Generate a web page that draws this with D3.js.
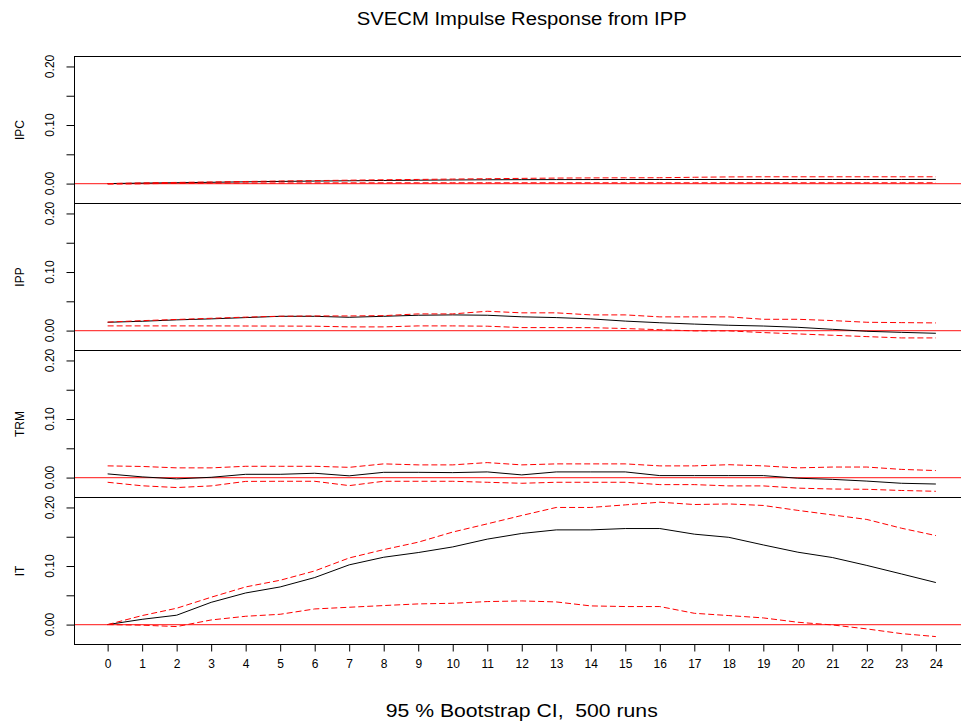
<!DOCTYPE html>
<html>
<head>
<meta charset="utf-8">
<script src="https://cdn.jsdelivr.net/npm/d3@7"></script>
<style>
  body { margin: 0; background: #fff; }
  text { font-family: "Liberation Sans", Arial, sans-serif; fill: #000; }
</style>
</head>
<body>
<svg id="Vis1" width="961" height="722"></svg>
<script>
// horizon steps (x axis)
let horizons = d3.range(0, 25);

let variables = ["IPC", "IPP", "TRM", "IT"];

// impulse responses
let ipcResp = [0, 0.0008, 0.0015, 0.0022, 0.003, 0.0037, 0.0043, 0.0048, 0.0053, 0.0058, 0.0062, 0.0065, 0.0067,
  0.0068, 0.0069, 0.007, 0.007, 0.007, 0.007, 0.007, 0.007, 0.007, 0.007, 0.007, 0.0071];
let ipcUpper = [0, 0.0012, 0.002, 0.0028, 0.0036, 0.0044, 0.0051, 0.0058, 0.0065, 0.0071, 0.0077, 0.0083, 0.0089,
  0.0094, 0.0097, 0.0099, 0.01, 0.0108, 0.0114, 0.0116, 0.0116, 0.0116, 0.0116, 0.0116, 0.0116];
let ipcLower = [-0.0009, -0.0004, 0.0005, 0.0008, 0.001, 0.0011, 0.0012, 0.0013, 0.0013, 0.0014, 0.0014, 0.0014, 0.0014,
  0.0014, 0.0014, 0.0014, 0.0014, 0.0014, 0.0014, 0.0014, 0.0014, 0.0014, 0.0014, 0.0014, 0.0014];

let ippResp = [0.0142, 0.0159, 0.0183, 0.02, 0.0222, 0.0244, 0.0244, 0.0227, 0.0244, 0.0262, 0.0268, 0.0262, 0.0235,
  0.0222, 0.02, 0.0162, 0.0134, 0.0111, 0.0091, 0.0078, 0.0056, 0.0022, -0.0012, -0.003, -0.0046];
let ippUpper = [0.0145, 0.017, 0.019, 0.021, 0.023, 0.0245, 0.025, 0.025, 0.0255, 0.0285, 0.0285, 0.033, 0.0303,
  0.0303, 0.0268, 0.0268, 0.0234, 0.0234, 0.0234, 0.0193, 0.0193, 0.0171, 0.0142, 0.0136, 0.0131];
let ippLower = [0.008, 0.008, 0.008, 0.008, 0.0078, 0.0077, 0.0075, 0.0063, 0.0063, 0.008, 0.008, 0.0075, 0.0051,
  0.0051, 0.005, 0.0035, 0.0015, -0.0005, -0.0005, -0.0034, -0.0057, -0.008, -0.0103, -0.0125, -0.0125];

let trmResp = [0.0063, 0.0012, -0.0022, 0.0005, 0.0056, 0.0056, 0.0074, 0.003, 0.009, 0.009, 0.0085, 0.0097, 0.0046,
  0.0097, 0.0097, 0.0097, 0.0034, 0.0034, 0.0034, 0.0034, -0.0011, -0.003, -0.006, -0.0097, -0.011];
let trmUpper = [0.02, 0.019, 0.0166, 0.0166, 0.0193, 0.0193, 0.0193, 0.0175, 0.0234, 0.0217, 0.0217, 0.0256, 0.0217,
  0.0234, 0.0234, 0.0234, 0.02, 0.02, 0.022, 0.02, 0.0166, 0.018, 0.018, 0.014, 0.012];
let trmLower = [-0.008, -0.014, -0.017, -0.0142, -0.0065, -0.0063, -0.0063, -0.0137, -0.0063, -0.0063, -0.0063, -0.008,
  -0.0097, -0.008, -0.008, -0.008, -0.012, -0.012, -0.0142, -0.0142, -0.018, -0.0195, -0.02, -0.022, -0.0234];

let itResp = [0, 0.009, 0.016, 0.038, 0.054, 0.0643, 0.0803, 0.102, 0.115, 0.123, 0.1326, 0.1459, 0.1556,
  0.1617, 0.1617, 0.164, 0.164, 0.1544, 0.149, 0.136, 0.1236, 0.1145, 0.101, 0.0865, 0.0718];
let itUpper = [0, 0.0154, 0.0279, 0.0467, 0.0643, 0.0757, 0.0916, 0.1138, 0.128, 0.1407, 0.158, 0.172, 0.1863,
  0.2, 0.2, 0.2044, 0.209, 0.205, 0.206, 0.2034, 0.195, 0.1873, 0.1795, 0.1646, 0.152];
let itLower = [0, -0.001, -0.0034, 0.0079, 0.0142, 0.0176, 0.0267, 0.0296, 0.0325, 0.0353, 0.0364, 0.0393, 0.0404,
  0.0387, 0.0319, 0.0308, 0.0308, 0.0193, 0.0154, 0.0114, 0.004, -0.0006, -0.0074, -0.0154, -0.0205];

let yTicks = [0, 0.05, 0.10, 0.15, 0.20];
let yLabels = [0, 0.10, 0.20];

let titleText = "SVECM Impulse Response from IPP";
let footText = "95 % Bootstrap CI,  500 runs";

let series = [
  {resp: ipcResp, upper: ipcUpper, lower: ipcLower},
  {resp: ippResp, upper: ippUpper, lower: ippLower},
  {resp: trmResp, upper: trmUpper, lower: trmLower},
  {resp: itResp, upper: itUpper, lower: itLower}
];

/*
* Draw the stacked impulse response panels
*/
let drawImpulseChart = function() {

  let svg = d3.select("body").select("svg#Vis1");

  svg.append("rect")
    .attr("width", 961)
    .attr("height", 722)
    .attr("fill", "#fff");

  // half pixel offsets keep the 1px box lines sharp
  const margin = {top: 56.5, left: 74.5};
  const plotWidth = 894.5;   // right edge runs past the picture
  const panelHeight = 147;

  let xScale = d3.scaleLinear()
    .domain([-0.96, 24.96])
    .range([0, plotWidth]);

  let yScale = d3.scaleLinear()
    .domain([-0.034, 0.217])
    .range([panelHeight, 0]);

  let line = d3.line()
    .x((d, i) => xScale(horizons[i]))
    .y(d => yScale(d));

  variables.forEach(function(name, k) {
    const top = margin.top + k * panelHeight;
    const panel = svg.append("g").attr("transform", translate(margin.left, top));

    // zero line
    panel.append("line")
      .attr("x1", 0)
      .attr("x2", plotWidth)
      .attr("y1", yScale(0))
      .attr("y2", yScale(0))
      .attr("stroke", "#ff0000")
      .attr("stroke-opacity", 0.75)
      .attr("stroke-width", 1.2);

    panel.append("path")
      .attr("d", line(series[k].resp))
      .attr("fill", "none")
      .attr("stroke", "#000")
      .attr("stroke-width", 1);

    [series[k].upper, series[k].lower].forEach(function(band) {
      panel.append("path")
        .attr("d", line(band))
        .attr("fill", "none")
        .attr("stroke", "#ff0000")
        .attr("stroke-width", 1)
        .attr("stroke-dasharray", "6,3");
    });

    // box
    panel.append("rect")
      .attr("x", 0)
      .attr("y", 0)
      .attr("width", plotWidth)
      .attr("height", panelHeight)
      .attr("fill", "none")
      .attr("stroke", "#000")
      .attr("stroke-width", 1);

    let yAxis = d3.axisLeft(yScale)
      .tickValues(yTicks)
      .tickSize(8)
      .tickFormat("");
    let yGroup = panel.append("g").call(yAxis);
    yGroup.select(".domain").remove();
    yGroup.selectAll("line").attr("stroke", "#000");

    yLabels.forEach(function(v) {
      panel.append("text")
        .attr("transform", translate(-20.5, yScale(v)) + " rotate(-90)")
        .attr("text-anchor", "middle")
        .style("font-size", "12px")
        .text(d3.format(".2f")(v));
    });

    panel.append("text")
      .attr("transform", translate(-50.5, midpoint(yScale.range())) + " rotate(-90)")
      .attr("text-anchor", "middle")
      .style("font-size", "12px")
      .text(name);
  });

  // x axis under the last panel
  let xAxis = d3.axisBottom(xScale)
    .tickValues(horizons)
    .tickSize(7)
    .tickPadding(8)
    .tickFormat(d3.format("d"));

  let xGroup = svg.append("g")
    .attr("transform", translate(margin.left, margin.top + 4 * panelHeight));
  xGroup.call(xAxis);
  xGroup.select(".domain").remove();
  xGroup.selectAll("text")
    .style("font-size", "12px")
    .style("font-family", "'Liberation Sans', Arial, sans-serif")
    .attr("fill", "#000");

  const xMiddle = margin.left + midpoint(xScale.range());

  svg.append("text")
    .attr("x", xMiddle)
    .attr("y", 25)
    .attr("text-anchor", "middle")
    .attr("textLength", 330)
    .attr("lengthAdjust", "spacingAndGlyphs")
    .style("font-size", "18px")
    .text(titleText);

  svg.append("text")
    .attr("x", xMiddle)
    .attr("y", 717)
    .attr("text-anchor", "middle")
    .attr("textLength", 272)
    .attr("lengthAdjust", "spacingAndGlyphs")
    .style("font-size", "18px")
    .style("white-space", "pre")
    .text(footText);
}

drawImpulseChart();

function midpoint(range) {
  return range[0] + (range[1] - range[0]) / 2.0;
}

function translate(x, y) {
  return 'translate(' + String(x) + ',' + String(y) + ')';
}
</script>
</body>
</html>
